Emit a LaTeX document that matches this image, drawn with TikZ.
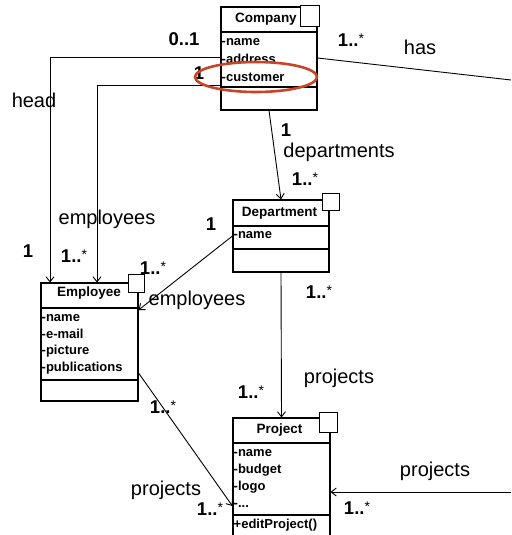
\documentclass[tikz,border=0pt]{standalone}
\usepackage{fontspec}
\setmainfont{Liberation Sans}
\usetikzlibrary{arrows.meta}
\definecolor{markred}{RGB}{200,70,40}
% multiplicity "1..*" with a raised, lighter star
\newcommand{\manymult}{1..\raisebox{3pt}{\fontsize{14}{14}\selectfont\mdseries *}}
\begin{document}
\begin{tikzpicture}[x=1pt,y=-1pt,
  classbox/.style={draw, line width=1.1pt, rectangle, inner sep=0pt, fill=white},
  tmark/.style={draw, line width=1pt, fill=white},
  sepline/.style={line width=1.1pt},
  ctitle/.style={font=\fontsize{13.5}{15}\selectfont\bfseries, inner sep=0pt},
  cattr/.style={font=\fontsize{13}{15}\selectfont\bfseries, inner sep=0pt, anchor=west},
  assoc/.style={line width=0.9pt},
  nav/.style={assoc, -{Straight Barb[length=5pt,width=8pt]}},
  role/.style={font=\fontsize{20}{24}\selectfont, inner sep=0pt},
  mult/.style={font=\fontsize{18.5}{22}\selectfont\bfseries, inner sep=0pt},
]
\useasboundingbox (0,0) rectangle (511,535);

% ---------- classes ----------
\node[classbox, minimum width=96pt, minimum height=103pt] (company) at (269,58.5) {};
\draw[sepline] (221,32) -- (317,32);
\draw[sepline] (221,87) -- (317,87);

\node[classbox, minimum width=96pt, minimum height=72pt] (department) at (281,236) {};
\draw[sepline] (233,226) -- (329,226);
\draw[sepline] (233,249) -- (329,249);

\node[classbox, minimum width=97pt, minimum height=118pt] (employee) at (89.5,342) {};
\draw[sepline] (41,308) -- (138,308);
\draw[sepline] (41,380) -- (138,380);

\node[classbox, minimum width=97pt, minimum height=127pt] (project) at (281.5,481.5) {};
\draw[sepline] (233,443) -- (330,443);
\draw[sepline] (233,515) -- (330,515);

% template marks at the top right corners
\draw[tmark] (300,6) rectangle (319,27);
\draw[tmark] (322,193) rectangle (339,210);
\draw[tmark] (128,274) rectangle (144,292);
\draw[tmark] (319,412) rectangle (337,432);

% ---------- class texts ----------
\node[ctitle] (companyname) at (266,19) {Company};
\node[cattr] (ca1) at (221.5,42) {-name};
\node[cattr] (ca2) at (221.5,59) {-address};
\node[cattr] (ca3) at (221.5,77) {-customer};

\node[ctitle] (departmentname) at (279.5,213) {Department};
\node[cattr] (da1) at (233.5,235) {-name};

\node[ctitle] (employeename) at (89,293) {Employee};
\node[cattr] (ea1) at (41.5,318) {-name};
\node[cattr] (ea2) at (41.5,334) {-e-mail};
\node[cattr] (ea3) at (41.5,351) {-picture};
\node[cattr] (ea4) at (41.5,368) {-publications};

\node[ctitle] (projectname) at (279.5,430) {Project};
\node[cattr] (pa1) at (233.5,453) {-name};
\node[cattr] (pa2) at (233.5,470) {-budget};
\node[cattr] (pa3) at (233.5,487) {-logo};
\node[cattr] (pa4) at (233.5,505) {-...};
\node[cattr] (pm1) at (233.5,525) {+editProject()};

% ---------- associations ----------
\coordinate (headbend) at (50,57);
\draw[nav] (company.west |- headbend) -- (headbend) -- (employee.north -| headbend);
\coordinate (staffbend) at (97,85);
\draw[nav] (company.west |- staffbend) -- (staffbend) -- (employee.north -| staffbend);
\draw[nav] (company.south) -- (department.north);
\draw[nav] (department.west |- 0,236) -- (employee.east |- 0,310);
\draw[nav] (department.south) -- (project.north);
\draw[nav] (employee.east |- 0,373) -- (project.west |- 0,506);
\coordinate (projin) at (511,492);
\draw[nav] (projin) -- (project.east |- projin);
\coordinate (hasend) at (511,80);
\draw[assoc] (company.east |- 0,58) -- (hasend);

% ---------- role names ----------
\node[role] (rhead) at (34,100) {head};
\node[role] (rstaff) at (107,219) {employees};
\node[role] (rhas) at (420,47) {has};
\node[role] (rdeps) at (339,152) {departments};
\node[role] (rdepstaff) at (197,300) {employees};
\node[role] (rproj1) at (339,378) {projects};
\node[role] (rproj2) at (166,490) {projects};
\node[role] (rproj3) at (435,471) {projects};

% ---------- multiplicities ----------
\node[mult] (m01) at (184,39) {0..1};
\node[mult] (mcust) at (199,73) {1};
\node[mult] (mhas) at (351,40) {\manymult};
\node[mult] (mdep1) at (286,130) {1};
\node[mult] (mdepn) at (305,179) {\manymult};
\node[mult] (mhead) at (28,251) {1};
\node[mult] (mstaff) at (74,256) {\manymult};
\node[mult] (mdepemp1) at (211,224) {1};
\node[mult] (mdepempn) at (153,268) {\manymult};
\node[mult] (mdepproj1) at (319,292) {\manymult};
\node[mult] (mdepprojn) at (251,392) {\manymult};
\node[mult] (mempproj1) at (163,407) {\manymult};
\node[mult] (mempprojn) at (210,509) {\manymult};
\node[mult] (mextproj) at (357,508) {\manymult};

% ---------- highlight ----------
\draw[markred, line width=2.6pt] (256,77) ellipse [x radius=61pt, y radius=15pt];
\end{tikzpicture}
\end{document}
